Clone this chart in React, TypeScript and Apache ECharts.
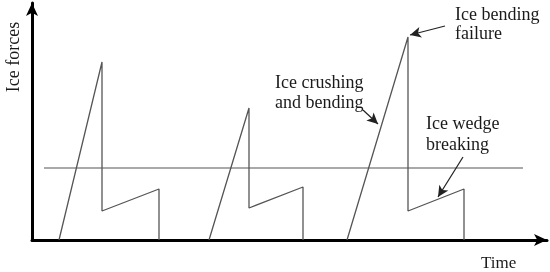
import React, { useEffect, useRef } from "react";
import * as echarts from "echarts";

// Cycle values (time units, force units)
const crushStartTime = [27, 177, 315];
const peakTime = [70, 217, 376];
const peakForce = [178, 132, 203];
const dropForce = [29, 32, 29];
const wedgeEndTime = [127, 271, 432];
const wedgeEndForce = [51, 53, 51];

// Horizontal reference level
const levelForce = 72;
const levelStart = 12;
const levelEnd = 491;

// Annotation arrows: [fromTime, fromForce, toTime, toForce]
const arrowBending = [413, 214, 378, 205];
const arrowCrushing = [331, 130, 346, 116];
const arrowWedge = [431, 83, 406, 43];

const axisMaxTime = 515;
const axisMaxForce = 237;

const FONT = "Liberation Serif";

export default function App() {
  const ref = useRef<HTMLDivElement>(null);
  useEffect(() => {
    if (!ref.current) return;
    const chart = echarts.init(ref.current, undefined, { renderer: "svg" });

    const cycleSeries = crushStartTime.map((s, i) => ({
      type: "line",
      symbol: "none",
      lineStyle: { color: "#555", width: 1.3 },
      data: [
        [s, 0],
        [peakTime[i], peakForce[i]],
        [peakTime[i], dropForce[i]],
        [wedgeEndTime[i], wedgeEndForce[i]],
        [wedgeEndTime[i], 0],
      ],
      z: 2,
    }));

    const arrowLine = (a: number[]) => [
      { coord: [a[0], a[1]] },
      { coord: [a[2], a[3]] },
    ];

    const textStyle = (text: string, x: number, y: number) => ({
      type: "text",
      x,
      y,
      style: {
        text,
        fontFamily: FONT,
        fontSize: 18,
        fill: "#1a1a1a",
        textVerticalAlign: "middle",
      },
    });

    chart.setOption({
      animation: false,
      grid: { left: 32, right: 3, top: 3, bottom: 32 },
      xAxis: {
        type: "value",
        min: 0,
        max: axisMaxTime,
        axisLine: {
          show: true,
          symbol: ["none", "arrow"],
          symbolSize: [9, 13],
          lineStyle: { color: "#000", width: 3 },
        },
        axisTick: { show: false },
        axisLabel: { show: false },
        splitLine: { show: false },
      },
      yAxis: {
        type: "value",
        min: 0,
        max: axisMaxForce,
        axisLine: {
          show: true,
          symbol: ["none", "arrow"],
          symbolSize: [9, 13],
          lineStyle: { color: "#000", width: 3 },
        },
        axisTick: { show: false },
        axisLabel: { show: false },
        splitLine: { show: false },
      },
      series: [
        ...cycleSeries,
        {
          type: "line",
          symbol: "none",
          lineStyle: { color: "#555", width: 1.1 },
          data: [
            [levelStart, levelForce],
            [levelEnd, levelForce],
          ],
          markLine: {
            silent: true,
            symbol: ["none", "arrow"],
            symbolSize: [8, 11],
            label: { show: false },
            lineStyle: { color: "#222", width: 1.2, type: "solid" },
            data: [
              arrowLine(arrowBending),
              arrowLine(arrowCrushing),
              arrowLine(arrowWedge),
            ],
          },
          z: 1,
        },
      ],
      graphic: [
        {
          type: "text",
          x: 13,
          y: 57,
          rotation: Math.PI / 2,
          style: {
            text: "Ice forces",
            fontFamily: FONT,
            fontSize: 18,
            fill: "#1a1a1a",
            textAlign: "center",
            textVerticalAlign: "middle",
          },
        },
        {
          type: "text",
          x: 481,
          y: 262,
          style: {
            text: "Time",
            fontFamily: FONT,
            fontSize: 17,
            fill: "#1a1a1a",
            textVerticalAlign: "middle",
          },
        },
        textStyle("Ice bending", 455, 14),
        textStyle("failure", 455, 33),
        textStyle("Ice crushing", 275, 82),
        textStyle("and bending", 275, 102),
        textStyle("Ice wedge", 426, 123),
        textStyle("breaking", 426, 144),
      ],
    });
    return () => chart.dispose();
  }, []);
  return (
    <div
      ref={ref}
      style={{ position: "fixed", left: 0, top: 0, width: 550, height: 272 }}
    />
  );
}
